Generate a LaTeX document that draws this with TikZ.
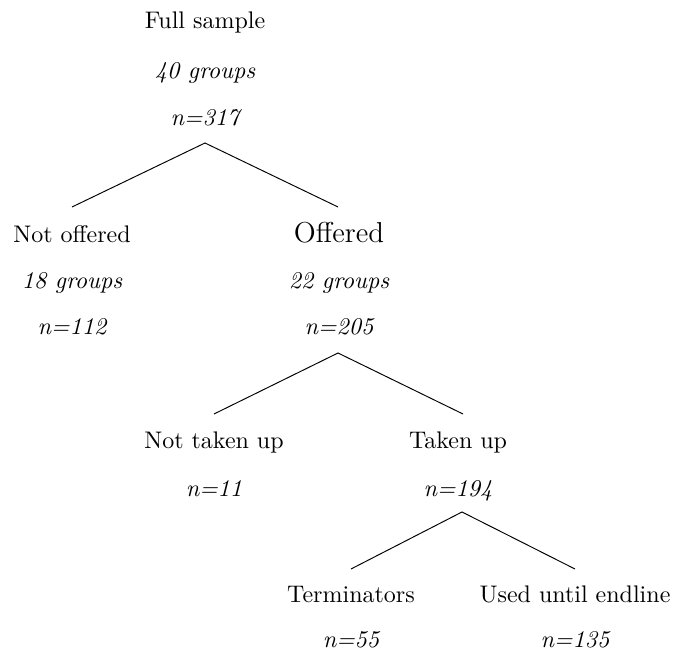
\documentclass[tikz,border=0pt]{standalone}
\begin{document}
\begin{tikzpicture}[x=0.4167pt, y=-0.4167pt, every node/.style={inner sep=0pt, anchor=base},
	num/.style={font=\itshape}]
		\useasboundingbox (0,0) rectangle (673,650);
		% level 0
		\node at (205,29) (full) {Full sample};
		\node[num] at (205,79) (full g) {40 groups};
		\node[num] at (205,126) (full n) {n=317};
		\coordinate (b0) at (205,143);
		% level 1
		\node at (72,243) (noff) {Not offered};
		\node[num] at (72,289) (noff g) {18 groups};
		\node[num] at (72,335) (noff n) {n=112};
		\coordinate (t1) at (72,207);
		\node[font=\large] at (339,243) (off) {Offered};
		\node[num] at (339,289) (off g) {22 groups};
		\node[num] at (339,335) (off n) {n=205};
		\coordinate (t2) at (338,207);
		\coordinate (b1) at (338,353);
		% level 2
		\node at (214,449) (ntak) {Not taken up};
		\node[num] at (214,497) (ntak n) {n=11};
		\coordinate (t3) at (214,414);
		\node at (458,449) (tak) {Taken up};
		\node[num] at (458,497) (tak n) {n=194};
		\coordinate (t4) at (463,414);
		\coordinate (b2) at (462,512);
		% level 3
		\node at (351,602) (term) {Terminators};
		\node[num] at (351,647) (term n) {n=55};
		\coordinate (t5) at (351,569);
		\node at (575,602) (used) {Used until endline};
		\node[num] at (575,647) (used n) {n=135};
		\coordinate (t6) at (575,569);

		\draw (t1) -- (b0) -- (t2) (t3) -- (b1) -- (t4) (t5) -- (b2) -- (t6);
\end{tikzpicture}
\end{document}
